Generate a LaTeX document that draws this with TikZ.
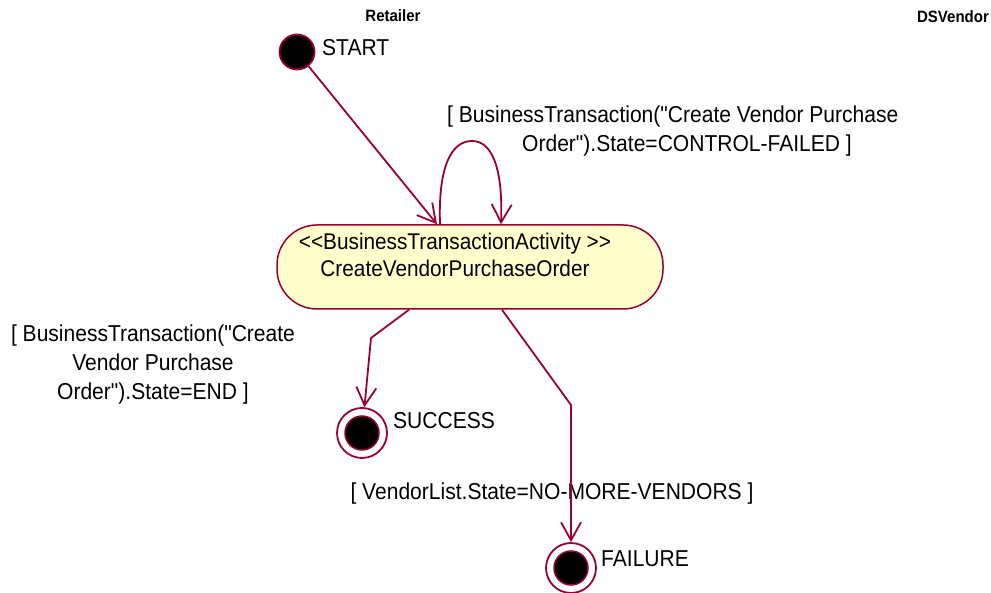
\documentclass[tikz,border=0pt]{standalone}
\usepackage{fontspec}
\setmainfont{Liberation Sans}[FakeStretch=0.915, Ligatures=TeXOff]
\usetikzlibrary{arrows.meta}
\definecolor{umlred}{RGB}{153,0,51}
\definecolor{umlfill}{RGB}{255,255,204}
\begin{document}
\begin{tikzpicture}[x=1pt,y=-1pt,
  conn/.style={draw=umlred, line width=1.8pt, -{Straight Barb[length=18pt,width=20pt,line width=1.8pt]}},
  lbl/.style={inner sep=0pt, font=\fontsize{23}{29}\selectfont, text=black},
  swim/.style={inner sep=0pt, font=\fontsize{16.4}{19}\selectfont\bfseries, text=black},
  initstate/.style={circle, draw=umlred, fill=black, line width=1.8pt, minimum size=35pt, inner sep=0pt},
  finalstate/.style={circle, draw=umlred, fill=white, line width=1.8pt, minimum size=50pt, inner sep=0pt},
  activity/.style={rectangle, rounded corners=40pt, draw=umlred, fill=umlfill, line width=1.5pt, minimum width=386pt, minimum height=84pt, inner sep=0pt},
  acttext/.style={inner sep=0pt, font=\fontsize{22.7}{26.5}\selectfont, text=black, align=center}
]
\useasboundingbox (0,0) rectangle (991,593);

\node[swim, anchor=base] (ret) at (393,22) {Retailer};
\node[swim, anchor=base] (dsv) at (953,22.5) {DSVendor};

\node[initstate] (start) at (297,52) {};
\node[lbl, anchor=base west] (startl) at (322,56) {START};

\node[activity] (act) at (470,267) {};
\node[acttext, anchor=north] (actl) at (455,233) {<{}<BusinessTransactionActivity >{}>\\CreateVendorPurchaseOrder};

\node[finalstate] (succ) at (362,433) {};
\draw[umlred, fill=black, line width=1.5pt] (succ.center) circle[radius=17];
\node[lbl, anchor=base west] (succl) at (393,429) {SUCCESS};

\node[finalstate] (fail) at (571,568) {};
\draw[umlred, fill=black, line width=1.5pt] (fail.center) circle[radius=17];
\node[lbl, anchor=base west] (faill) at (601,566) {FAILURE};

\node[lbl, align=left, anchor=north west] (loopl) at (447,106) {[ BusinessTransaction("Create Vendor Purchase\\\hspace*{75pt}Order").State=CONTROL-FAILED ]};
\node[lbl, align=center, anchor=north] (endl) at (153,325) {[ BusinessTransaction("Create\\Vendor Purchase\\Order").State=END ]};
\node[lbl, anchor=base] (vendl) at (552,500) {[ VendorList.State=NO-MORE-VENDORS ]};

\coordinate (b1) at (371,338);
\coordinate (b2) at (571,405);

\draw[conn] (start) -- ([xshift=-33pt]act.north);
\draw[conn] ([xshift=-30pt]act.north) .. controls (438,165) and (452,141) .. (472,141) .. controls (492,141) and (503,168) .. ([xshift=31pt]act.north);
\draw[conn] ([xshift=-61pt]act.south) -- (b1) -- (succ);
\draw[conn] ([xshift=32pt]act.south) -- (b2) -- (fail);
\end{tikzpicture}
\end{document}
